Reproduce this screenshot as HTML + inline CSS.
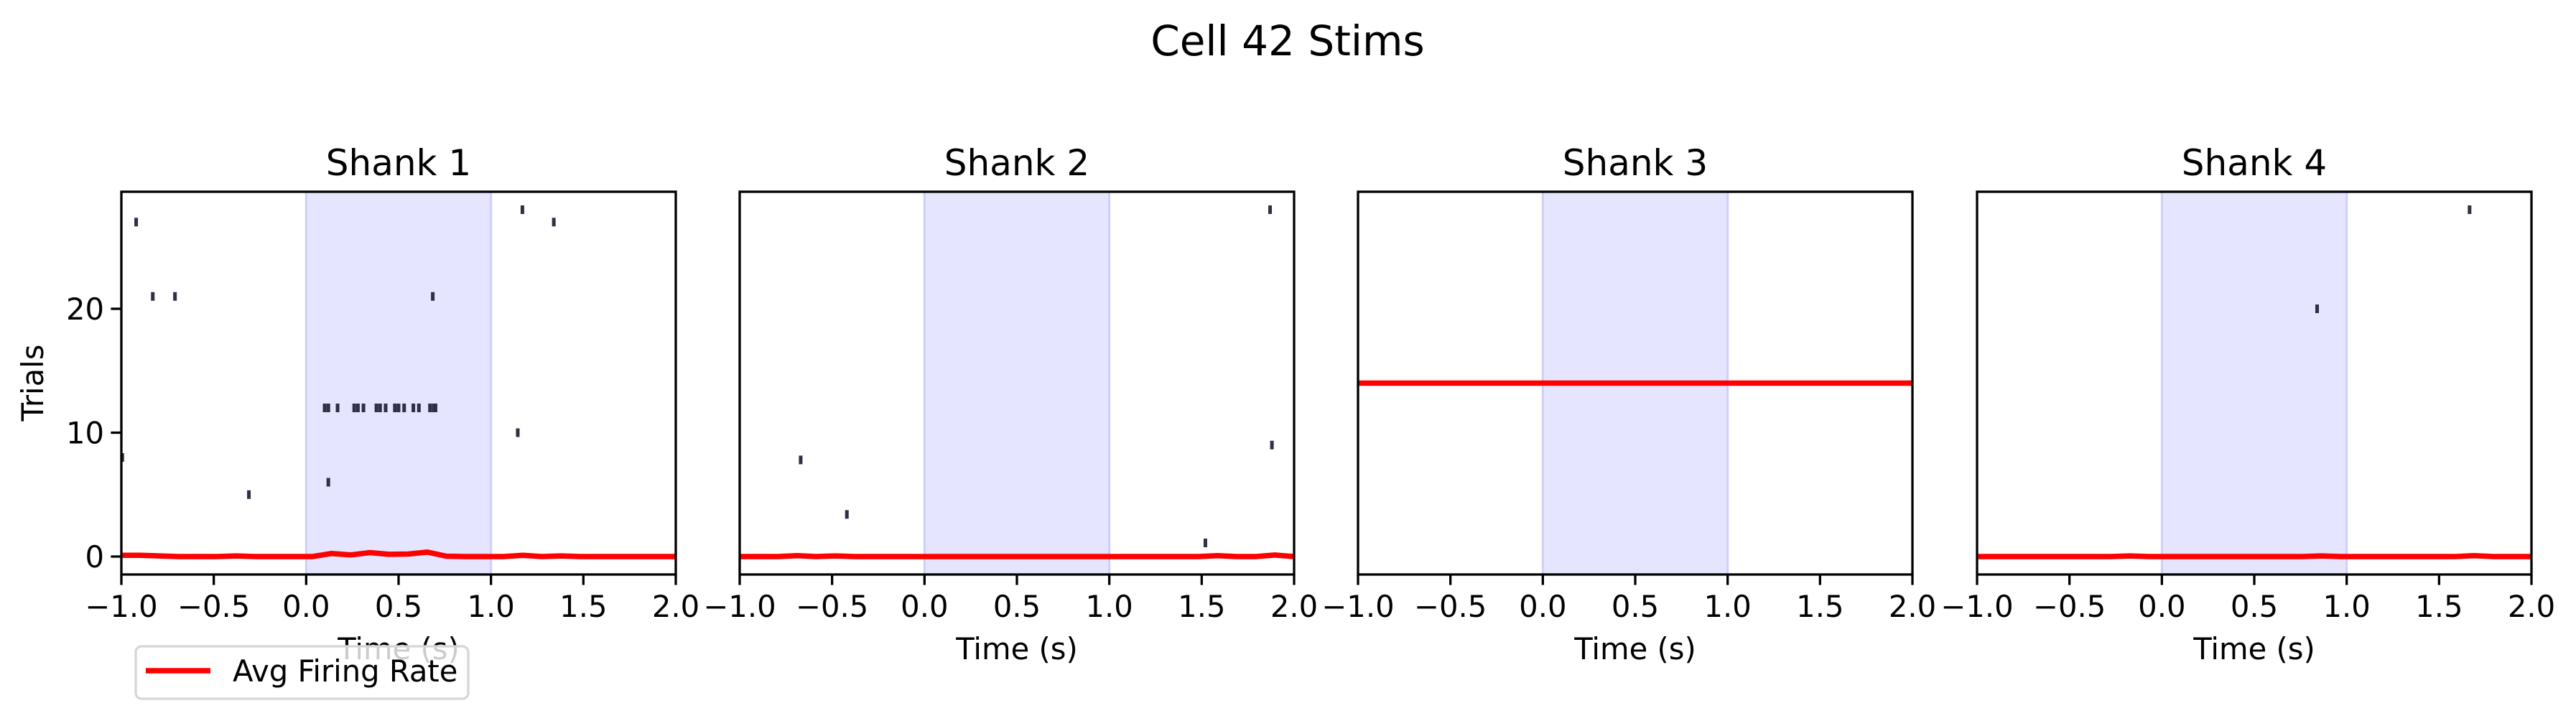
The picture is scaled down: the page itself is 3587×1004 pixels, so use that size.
<!DOCTYPE html>
<html><head><meta charset="utf-8">
<style>
html,body{margin:0;padding:0;background:#fff;}
svg{display:block;font-family:"DejaVu Sans","Liberation Sans",sans-serif;}
</style></head>
<body>
<svg id="fig" width="3587" height="1004" viewBox="0 0 3587 1004" xmlns="http://www.w3.org/2000/svg">
<rect width="3587" height="1004" fill="#fff"/>
<text x="1793" y="77" font-size="58" text-anchor="middle">Cell 42 Stims</text>
<g id="panels"></g>
<g>
<rect x="189" y="900" width="463" height="73" rx="8" fill="#fff" fill-opacity="0.8" stroke="#d6d6d6" stroke-width="3.3"/>
<line x1="203" y1="934" x2="293" y2="934" stroke="#ff0000" stroke-width="7.5"/>
<text x="324" y="949" font-size="41.7">Avg Firing Rate</text>
</g>
</svg>
<script>
// x positions of firing rate samples (seconds)
const rateTimes = [-1.000,-0.897,-0.793,-0.690,-0.586,-0.483,-0.379,-0.276,-0.172,-0.069,0.034,0.138,0.241,0.345,0.448,0.552,0.655,0.759,0.862,0.966,1.069,1.172,1.276,1.379,1.483,1.586,1.690,1.793,1.897,2.000];
const rateShank1 = [0.1,0.1,0.05,0,0,0,0.05,0,0,0,0,0.25,0.13,0.32,0.18,0.2,0.36,0.03,0,0,0,0.1,0,0.05,0,0,0,0,0,0];
const rateShank2 = [0,0,0,0.07,0,0.05,0,0,0,0,0,0,0,0,0,0,0,0,0,0,0,0,0,0,0,0.07,0,0,0.12,0];
const rateShank3 = [14,14,14,14,14,14,14,14,14,14,14,14,14,14,14,14,14,14,14,14,14,14,14,14,14,14,14,14,14,14];
const rateShank4 = [0,0,0,0,0,0,0,0,0.05,0,0,0,0,0,0,0,0,0,0.05,0,0,0,0,0,0,0,0.07,0,0,0];
// spikes: [time, trial]
const spikesShank1 = [[-0.92,27],[1.17,28],[1.34,27],[-0.83,21],[-0.71,21],[0.685,21],
 [0.10,12],[0.12,12],[0.17,12],[0.26,12],[0.28,12],[0.31,12],[0.38,12],[0.40,12],[0.43,12],
 [0.48,12],[0.50,12],[0.53,12],[0.58,12],[0.61,12],[0.67,12],[0.69,12],[0.70,12],
 [1.145,10],[-0.995,8],[0.12,6],[-0.31,5]];
const spikesShank2 = [[1.87,28],[-0.67,7.8],[-0.42,3.4],[1.52,1.1],[1.88,9]];
const spikesShank3 = [];
const spikesShank4 = [[1.665,28],[0.84,20]];
const panelTitles = ["Shank 1","Shank 2","Shank 3","Shank 4"];
const xTicks = [-1.0,-0.5,0.0,0.5,1.0,1.5,2.0];
const xTickLabels = ["\u22121.0","\u22120.5","0.0","0.5","1.0","1.5","2.0"];
const yTicks = [0,10,20];
const yTickLabels = ["0","10","20"];
const stimWindow = [0,1];

const NS="http://www.w3.org/2000/svg";
const panelsG=document.getElementById('panels');
const lefts=[169,1030,1891,2753], W=772, TOP=267, BOT=800;
const xMin=-1,xMax=2,yMin=-1.45,yMax=29.45;
const rates=[rateShank1,rateShank2,rateShank3,rateShank4];
const spikes=[spikesShank1,spikesShank2,spikesShank3,spikesShank4];
function mk(tag,attrs,parent){const e=document.createElementNS(NS,tag);for(const k in attrs)e.setAttribute(k,attrs[k]);parent.appendChild(e);return e;}
for(let p=0;p<4;p++){
  const L=lefts[p];
  const X=v=>L+(v-xMin)/(xMax-xMin)*W;
  const Y=v=>BOT-(v-yMin)/(yMax-yMin)*(BOT-TOP);
  const g=mk('g',{},panelsG);
  
  
  const sh=mk('rect',{x:X(stimWindow[0]),y:TOP,width:X(stimWindow[1])-X(stimWindow[0]),height:BOT-TOP,fill:'#e5e5ff',stroke:'#cfcffc','stroke-width':3},g);
  
  
  spikes[p].forEach(s=>{
    const r=mk('rect',{x:X(s[0])-2.5,y:Y(s[1])-6,width:5,height:12,fill:'#2e3045'},g);
    
    
  });
  const pts=rateTimes.map((t,i)=>X(t).toFixed(1)+','+Y(rates[p][i]).toFixed(1)).join(' ');
  const pl=mk('polyline',{points:pts,fill:'none',stroke:'#ff0000','stroke-width':7.5,'stroke-linejoin':'round'},g);
  
  
  const fr=mk('rect',{x:L,y:TOP,width:W,height:BOT-TOP,fill:'none',stroke:'#000','stroke-width':3.3},g);
  
  
  xTicks.forEach((v,i)=>{
    const tl=mk('line',{x1:X(v),x2:X(v),y1:BOT,y2:BOT+14.6,stroke:'#000','stroke-width':3.3},g);
    
    
    const tx=mk('text',{x:X(v),y:859,'font-size':41.7,'text-anchor':'middle'},g);
    tx.textContent=xTickLabels[i];
    
    
  });
  const xl=mk('text',{x:L+W/2,y:918,'font-size':41.7,'text-anchor':'middle'},g);
  xl.textContent='Time (s)';
  
  
  const tt=mk('text',{x:L+W/2,y:244,'font-size':50,'text-anchor':'middle'},g);
  tt.textContent=panelTitles[p];
  
  
  if(p===0){
    yTicks.forEach((v,i)=>{
      const tl=mk('line',{x1:L-14.6,x2:L,y1:Y(v),y2:Y(v),stroke:'#000','stroke-width':3.3},g);
      
      
      const tx=mk('text',{x:L-24,y:Y(v)+15,'font-size':41.7,'text-anchor':'end'},g);
      tx.textContent=yTickLabels[i];
      
      
    });
    const yl=mk('text',{x:0,y:0,'font-size':41.7,'text-anchor':'middle',transform:'translate(60,533) rotate(-90)'},g);
    yl.textContent='Trials';
    
    
  }
}
</script>
</body></html>
